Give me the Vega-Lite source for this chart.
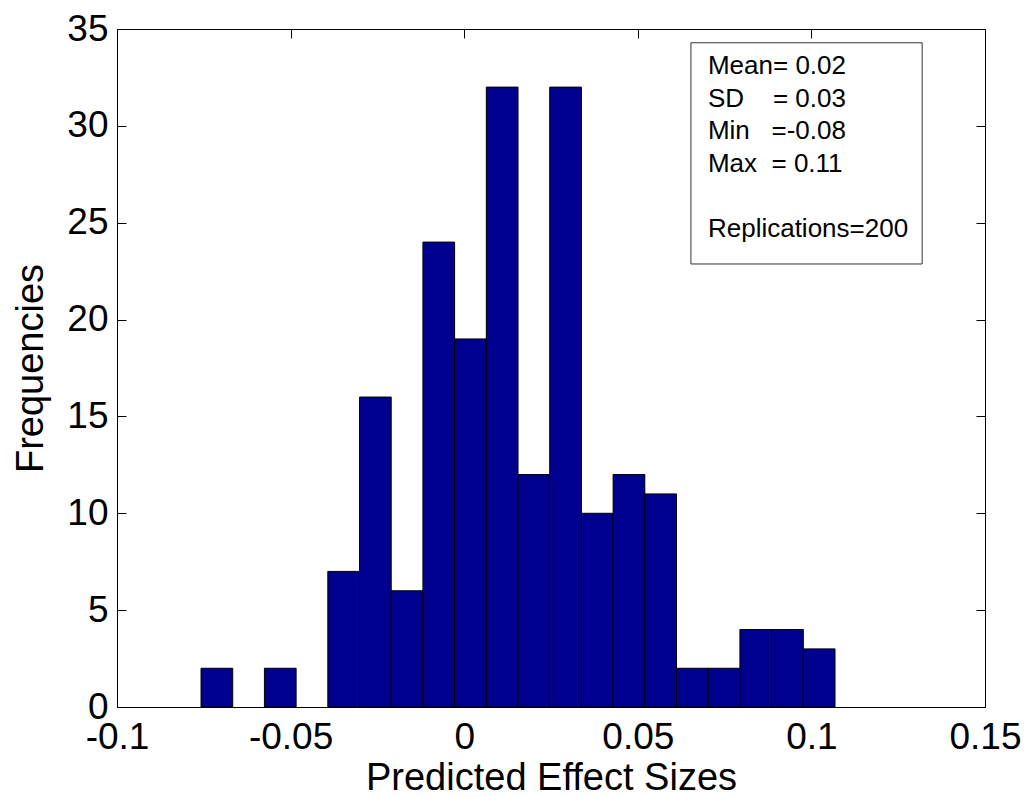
{
  "$schema": "https://vega.github.io/schema/vega-lite/v6.json",
  "width": 868,
  "height": 678,
  "autosize": {"type": "none"},
  "padding": {"left": 117, "top": 29, "right": 43, "bottom": 90},
  "background": "white",
  "datasets": {
    "bins": [
      {"x0": -0.0758, "x1": -0.06667, "count": 2},
      {"x0": -0.05754, "x1": -0.04841, "count": 2},
      {"x0": -0.03928, "x1": -0.03015, "count": 7},
      {"x0": -0.03015, "x1": -0.02102, "count": 16},
      {"x0": -0.02102, "x1": -0.01189, "count": 6},
      {"x0": -0.01189, "x1": -0.00276, "count": 24},
      {"x0": -0.00276, "x1": 0.00637, "count": 19},
      {"x0": 0.00637, "x1": 0.0155, "count": 32},
      {"x0": 0.0155, "x1": 0.02463, "count": 12},
      {"x0": 0.02463, "x1": 0.03376, "count": 32},
      {"x0": 0.03376, "x1": 0.04289, "count": 10},
      {"x0": 0.04289, "x1": 0.05202, "count": 12},
      {"x0": 0.05202, "x1": 0.06115, "count": 11},
      {"x0": 0.06115, "x1": 0.07028, "count": 2},
      {"x0": 0.07028, "x1": 0.07941, "count": 2},
      {"x0": 0.07941, "x1": 0.08854, "count": 4},
      {"x0": 0.08854, "x1": 0.09767, "count": 4},
      {"x0": 0.09767, "x1": 0.1068, "count": 3}
    ],
    "box": [
      {"x0": 0.0653, "x1": 0.1319, "y0": 22.87, "y1": 34.29}
    ],
    "notes": [
      {"x": 0.0702, "y": 32.68, "label": "Mean= 0.02"},
      {"x": 0.0702, "y": 30.99, "label": "SD\u00a0\u00a0\u00a0\u00a0= 0.03"},
      {"x": 0.0702, "y": 29.31, "label": "Min\u00a0\u00a0\u00a0=-0.08"},
      {"x": 0.0702, "y": 27.63, "label": "Max\u00a0\u00a0= 0.11"},
      {"x": 0.0702, "y": 24.26, "label": "Replications=200"}
    ]
  },
  "layer": [
    {
      "data": {"name": "bins"},
      "mark": {"type": "rect", "fill": "#00008F", "stroke": "#000000", "strokeWidth": 1},
      "encoding": {
        "x": {
          "field": "x0", "type": "quantitative",
          "scale": {"domain": [-0.1, 0.15], "nice": false, "zero": false},
          "axis": {
            "orient": "bottom",
            "values": [-0.1, -0.05, 0, 0.05, 0.1, 0.15],
            "labelExpr": "toString(datum.value)",
            "title": "Predicted Effect Sizes",
            "titlePadding": 4,
            "labelPadding": 21
          }
        },
        "x2": {"field": "x1"},
        "y": {
          "field": "count", "type": "quantitative",
          "scale": {"domain": [0, 35], "nice": false},
          "axis": {
            "orient": "left",
            "values": [0, 5, 10, 15, 20, 25, 30, 35],
            "title": "Frequencies",
            "titlePadding": 16,
            "labelPadding": 18
          }
        },
        "y2": {"datum": 0}
      }
    },
    {
      "data": {"name": "box"},
      "mark": {"type": "rect", "fill": "white", "stroke": "#333333", "strokeWidth": 1},
      "encoding": {
        "x": {
          "field": "x0", "type": "quantitative",
          "scale": {"domain": [-0.1, 0.15], "nice": false, "zero": false},
          "axis": {"orient": "top", "values": [-0.1, -0.05, 0, 0.05, 0.1, 0.15], "labels": false, "title": null}
        },
        "x2": {"field": "x1"},
        "y": {
          "field": "y0", "type": "quantitative",
          "scale": {"domain": [0, 35], "nice": false},
          "axis": {"orient": "right", "values": [0, 5, 10, 15, 20, 25, 30, 35], "labels": false, "title": null}
        },
        "y2": {"field": "y1"}
      }
    },
    {
      "data": {"name": "notes"},
      "mark": {"type": "text", "align": "left", "baseline": "alphabetic", "font": "Liberation Sans", "fontSize": 26, "color": "#000000"},
      "encoding": {
        "x": {"field": "x", "type": "quantitative", "scale": {"domain": [-0.1, 0.15], "nice": false, "zero": false}, "axis": null},
        "y": {"field": "y", "type": "quantitative", "scale": {"domain": [0, 35], "nice": false}, "axis": null},
        "text": {"field": "label"}
      }
    }
  ],
  "config": {
    "view": {"stroke": "#000000", "strokeWidth": 1},
    "axis": {
      "grid": false,
      "domainColor": "#000000",
      "domainWidth": 1,
      "tickColor": "#000000",
      "tickWidth": 1,
      "tickSize": -9,
      "labelFont": "Liberation Sans",
      "labelFontSize": 37,
      "labelColor": "#000000",
      "labelFlush": false,
      "labelOverlap": false,
      "labelBound": false,
      "titleFont": "Liberation Sans",
      "titleFontSize": 38,
      "titleFontWeight": "normal",
      "titleColor": "#000000"
    }
  }
}
